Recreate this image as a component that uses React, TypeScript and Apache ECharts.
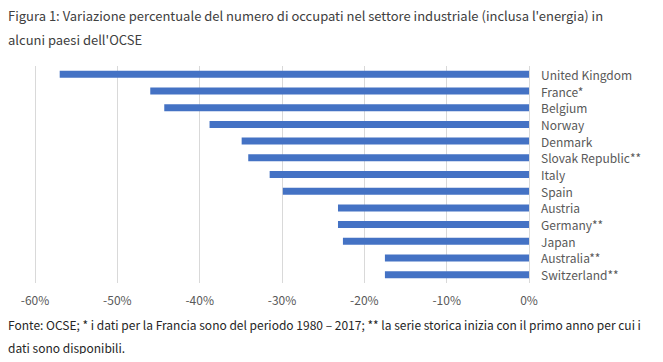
import React, { useEffect, useRef } from "react";
import * as echarts from "echarts";

const countries = [
  "United Kingdom",
  "France*",
  "Belgium",
  "Norway",
  "Denmark",
  "Slovak Republic**",
  "Italy",
  "Spain",
  "Austria",
  "Germany**",
  "Japan",
  "Australia**",
  "Switzerland**",
];
const values = [-57.0, -46.0, -44.3, -38.8, -34.9, -34.1, -31.5, -29.9, -23.2, -23.2, -22.6, -17.5, -17.5];

const titleLines = [
  "Figura 1: Variazione percentuale del numero di occupati nel settore industriale (inclusa l'energia) in",
  "alcuni paesi dell'OCSE",
];
const footerLines = [
  "Fonte: OCSE; * i dati per la Francia sono del periodo 1980 – 2017; ** la serie storica inizia con il primo anno per cui i",
  "dati sono disponibili.",
];

const FONT = "'Noto Sans CJK JP', 'Noto Sans', sans-serif";

export default function App() {
  const ref = useRef<HTMLDivElement>(null);
  useEffect(() => {
    if (!ref.current) return;
    const chart = echarts.init(ref.current, undefined, { renderer: "svg" });
    chart.setOption({
      animation: false,
      backgroundColor: "#ffffff",
      textStyle: { fontFamily: FONT },
      graphic: [
        ...titleLines.map((t, i) => ({
          type: "text",
          left: 8,
          top: 9 + i * 24,
          style: { text: t, fontSize: 13, fill: "#404040", fontFamily: FONT },
        })),
        ...footerLines.map((t, i) => ({
          type: "text",
          left: 8,
          top: 318 + i * 23,
          style: { text: t, fontSize: 12, fill: "#262626", fontFamily: FONT },
        })),
      ],
      grid: { left: 35, right: 134, top: 66, bottom: 79, containLabel: false },
      xAxis: {
        type: "value",
        min: -60,
        max: 0,
        interval: 10,
        axisLine: { show: false },
        axisTick: { show: false },
        axisLabel: {
          formatter: (v: number) => `${v}%`,
          color: "#595959",
          fontSize: 12,
          margin: 10,
          fontFamily: FONT,
        },
        splitLine: { show: true, lineStyle: { color: "#d9d9d9", width: 1 } },
      },
      yAxis: {
        type: "category",
        data: countries,
        inverse: true,
        position: "right",
        axisLine: { show: false },
        axisTick: { show: false },
        axisLabel: { color: "#595959", fontSize: 12, margin: 12, fontFamily: FONT },
      },
      series: [
        {
          type: "bar",
          data: values,
          barWidth: 7,
          itemStyle: { color: "#4472c4" },
        },
      ],
    });
    return () => chart.dispose();
  }, []);
  return <div ref={ref} style={{ width: 663, height: 362, margin: -8 }} />;
}
